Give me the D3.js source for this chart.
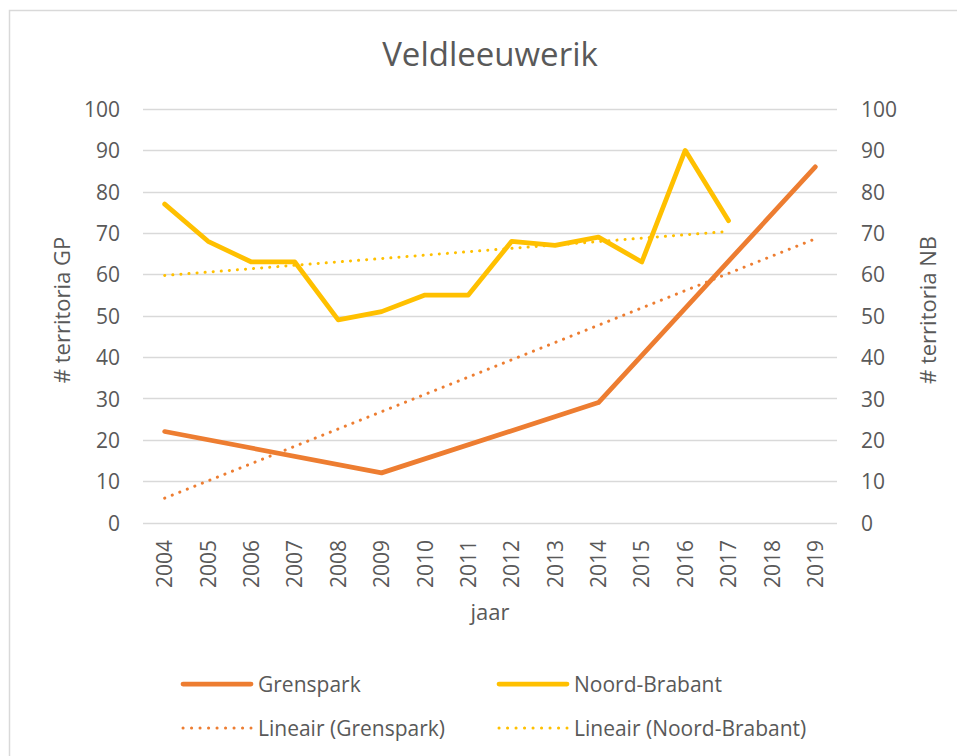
<!DOCTYPE html>
<html>
<head>
<meta charset="utf-8">
<script src="https://cdn.jsdelivr.net/npm/d3@7"></script>
<style>
body{margin:0;background:#fff;}
text{font-family:"Open Sans",Lato,sans-serif;fill:#595959;}
</style>
</head>
<body>
<div class="container"></div>
<script>
// jaren op de x-as
var years = ["2004","2005","2006","2007","2008","2009","2010","2011","2012","2013","2014","2015","2016","2017","2018","2019"];
// Grenspark: alleen tellingen in 2004, 2009, 2014, 2019
var grenspark = [22,null,null,null,null,12,null,null,null,null,29,null,null,null,null,86];
// Noord-Brabant t/m 2017
var noordBrabant = [77,68,63,63,49,51,55,55,68,67,69,63,90,73,null,null];
var yTicks = [0,10,20,30,40,50,60,70,80,90,100];

var W = 957, H = 756;
var ORANGE = "#ED7D31", YELLOW = "#FFC000";

var svg = d3.select(".container").append("svg")
	.attr("width", W).attr("height", H);

svg.append("rect")
	.attr("x", 9.5).attr("y", 10.5)
	.attr("width", W).attr("height", H)
	.attr("fill", "none").attr("stroke", "#D9D9D9").attr("stroke-width", 1.5);

var x = d3.scaleBand().domain(years).range([143, 837]).padding(0);
var xc = function(yr){ return x(yr) + x.bandwidth()/2; };
var y = d3.scaleLinear().domain([0, 100]).range([522.5, 109]);
var y2 = d3.scaleLinear().domain([0, 100]).range([522.5, 109]);

// gridlines
svg.append("g").selectAll("line").data(yTicks).enter().append("line")
	.attr("x1", 143).attr("x2", 837)
	.attr("y1", function(d){ return Math.round(y(d)) + 0.5; })
	.attr("y2", function(d){ return Math.round(y(d)) + 0.5; })
	.attr("stroke", "#D9D9D9").attr("stroke-width", 1.3);

// left axis
var leftAx = svg.append("g").attr("transform", "translate(120,0)")
	.call(d3.axisLeft(y).tickValues(yTicks).tickSize(0).tickPadding(0));
leftAx.select(".domain").remove();
leftAx.selectAll("text").attr("font-size", 21).attr("fill", "#595959").attr("dy", "0.36em");

// right axis
var rightAx = svg.append("g").attr("transform", "translate(861,0)")
	.call(d3.axisRight(y2).tickValues(yTicks).tickSize(0).tickPadding(0));
rightAx.select(".domain").remove();
rightAx.selectAll("text").attr("font-size", 21).attr("fill", "#595959").attr("dy", "0.36em");

// x axis
var bottomAx = svg.append("g").attr("transform", "translate(0,540)")
	.call(d3.axisBottom(x).tickSize(0).tickPadding(0));
bottomAx.select(".domain").remove();
bottomAx.selectAll("text")
	.attr("font-size", 21).attr("fill", "#595959")
	.attr("transform", "rotate(-90)")
	.attr("text-anchor", "end")
	.attr("x", 0).attr("y", 0).attr("dy", "0.36em");

// titles
svg.append("text").attr("x", 490).attr("y", 66).attr("text-anchor", "middle")
	.attr("font-size", 33).text("Veldleeuwerik");
svg.append("text").attr("transform", "translate(70,310) rotate(-90)")
	.attr("text-anchor", "middle").attr("font-size", 22).text("# territoria GP");
svg.append("text").attr("transform", "translate(936,310) rotate(-90)")
	.attr("text-anchor", "middle").attr("font-size", 22).text("# territoria NB");
svg.append("text").attr("x", 490).attr("y", 620).attr("text-anchor", "middle")
	.attr("font-size", 22).text("jaar");

// data as points
function pts(vals){
	return years.map(function(yr, i){ return {i: i + 1, yr: yr, v: vals[i]}; })
		.filter(function(d){ return d.v !== null; });
}
function trend(p){
	var mx = d3.mean(p, function(d){ return d.i; });
	var my = d3.mean(p, function(d){ return d.v; });
	var sxy = d3.sum(p, function(d){ return (d.i - mx) * (d.v - my); });
	var sxx = d3.sum(p, function(d){ return (d.i - mx) * (d.i - mx); });
	var b = sxy / sxx, a = my - b * mx;
	var a0 = p[0], a1 = p[p.length - 1];
	return [{yr: a0.yr, v: a + b * a0.i}, {yr: a1.yr, v: a + b * a1.i}];
}

var line = d3.line().x(function(d){ return xc(d.yr); }).y(function(d){ return y(d.v); });

var gpPts = pts(grenspark), nbPts = pts(noordBrabant);

function drawTrend(p, color){
	svg.append("path").datum(trend(p)).attr("d", line)
		.attr("fill", "none").attr("stroke", color).attr("stroke-width", 3)
		.attr("stroke-linecap", "round").attr("stroke-dasharray", "0.1 8");
}
function drawLine(p, color){
	svg.append("path").datum(p).attr("d", line)
		.attr("fill", "none").attr("stroke", color).attr("stroke-width", 4.75)
		.attr("stroke-linecap", "round").attr("stroke-linejoin", "round");
}

drawLine(gpPts, ORANGE);
drawLine(nbPts, YELLOW);
drawTrend(gpPts, ORANGE);
drawTrend(nbPts, YELLOW);

// legend
var legend = [
	{label: "Grenspark", color: ORANGE, dash: false, x: 183, y: 684},
	{label: "Noord-Brabant", color: YELLOW, dash: false, x: 499, y: 684},
	{label: "Lineair (Grenspark)", color: ORANGE, dash: true, x: 183, y: 728},
	{label: "Lineair (Noord-Brabant)", color: YELLOW, dash: true, x: 499, y: 728}
];
var lg = svg.append("g").selectAll("g").data(legend).enter().append("g")
	.attr("transform", function(d){ return "translate(" + d.x + "," + d.y + ")"; });
lg.append("line").attr("x1", 0).attr("x2", 68).attr("y1", 0).attr("y2", 0)
	.attr("stroke", function(d){ return d.color; })
	.attr("stroke-width", function(d){ return d.dash ? 3 : 4.75; })
	.attr("stroke-linecap", "round")
	.attr("stroke-dasharray", function(d){ return d.dash ? "0.1 8.4" : null; });
lg.append("text").attr("x", 75).attr("y", 0).attr("dy", "0.36em")
	.attr("font-size", 21).text(function(d){ return d.label; });
</script>
</body>
</html>
